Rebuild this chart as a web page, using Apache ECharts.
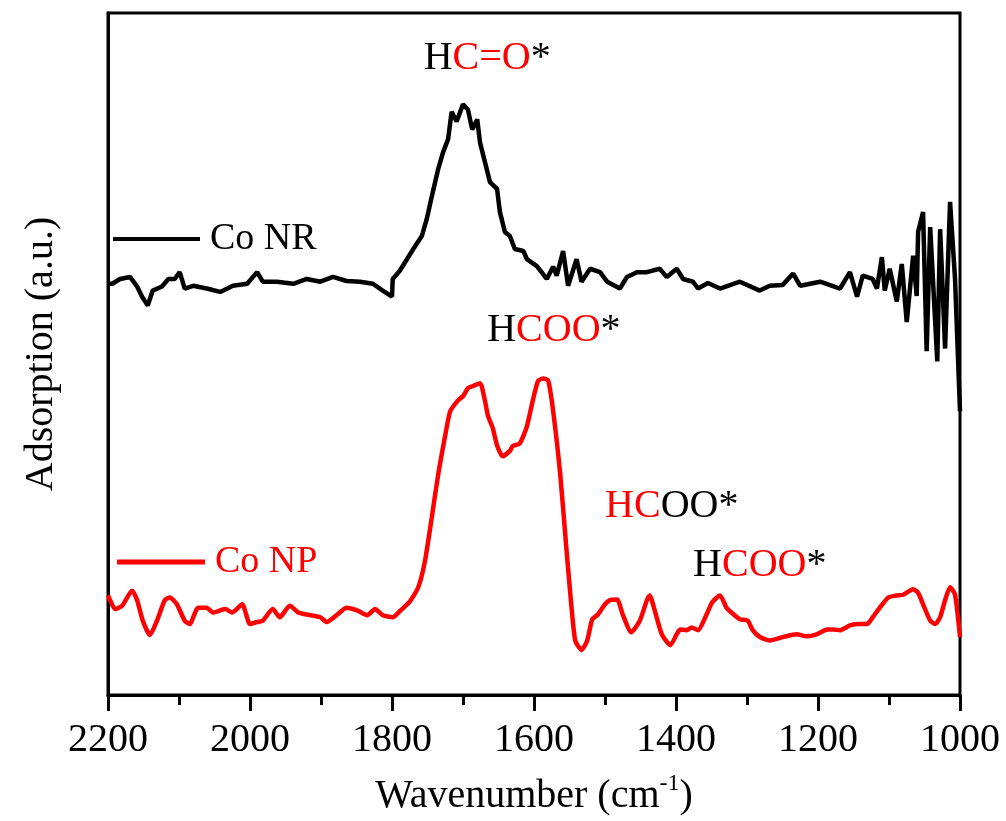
<!DOCTYPE html>
<html>
<head>
<meta charset="utf-8">
<script src="https://cdn.jsdelivr.net/npm/echarts@6/dist/echarts.min.js"></script>
<style>html,body{margin:0;padding:0;background:#fff;}#chart{width:1006px;height:821px;}</style>
</head>
<body>
<div id="chart"></div>
<script>
// Co NR (black) spectrum
const nrWave = [2200,2194,2183,2169,2159,2152,2144,2137,2124,2115,2106,2099,2092,2080,2061,2042,2024,2004,1990,1982,1962,1939,1920,1901,1883,1864,1845,1827,1813,1800,1799,1789,1770,1758,1751,1744,1735,1728,1721,1716,1709,1700,1693,1687,1680,1676,1669,1662,1652,1648,1641,1634,1627,1615,1610,1596,1582,1573,1568,1559,1552,1540,1533,1521,1507,1497,1479,1469,1455,1441,1423,1413,1399,1390,1376,1369,1355,1338,1310,1282,1268,1250,1235,1225,1197,1169,1155,1145,1137,1123,1117,1110,1106,1099,1089,1082,1075,1066,1061,1059,1052,1047,1042,1032,1028,1021,1014,1007,1000];
const nrAbs = [60.3,60.3,61.0,61.3,59.9,58.4,57.1,59.3,59.9,61.0,61.0,62.0,59.6,60.0,59.6,59.1,60.0,60.3,62.0,60.6,60.6,60.3,61.0,60.6,61.3,60.7,60.6,60.3,59.3,58.4,61.0,62.2,65.4,67.3,69.8,73.1,77.1,79.6,81.5,85.5,84.1,86.6,85.8,82.9,84.4,81.0,78.1,75.2,74.2,70.8,67.9,67.3,65.4,65.1,63.9,62.9,61.0,62.8,61.5,65.1,60.0,63.9,60.6,62.5,62.0,60.6,59.6,61.3,62.0,62.0,62.5,61.3,62.5,61.0,60.6,59.6,60.4,59.6,60.6,59.3,60.0,60.1,61.8,60.0,60.6,59.6,62.0,58.4,61.5,61.0,59.6,64.2,59.3,62.5,57.7,63.2,54.7,64.4,58.5,67.9,70.8,50.4,68.6,48.9,68.3,50.8,72.3,61.0,41.6];

// Co NP (red) spectrum
const npWave = [2200,2197,2190,2180,2166,2159,2151,2141,2131,2120,2113,2103,2092,2085,2073,2061,2052,2035,2025,2011,2000,1990,1982,1968,1958,1944,1932,1920,1901,1892,1877,1864,1849,1835,1824,1813,1799,1789,1775,1763,1754,1744,1735,1725,1718,1707,1700,1693,1686,1676,1669,1665,1658,1652,1644,1634,1630,1620,1610,1601,1594,1587,1580,1573,1563,1556,1549,1542,1533,1525,1518,1510,1500,1493,1483,1475,1463,1451,1441,1437,1430,1420,1408,1399,1394,1385,1378,1369,1357,1349,1338,1329,1322,1310,1299,1292,1282,1268,1249,1230,1216,1202,1187,1178,1169,1155,1141,1131,1123,1113,1101,1089,1080,1066,1059,1052,1042,1035,1028,1021,1014,1007,1000];
const npAbs = [14.6,13.9,12.6,13.1,15.3,13.9,10.9,8.8,10.9,13.9,14.3,13.3,10.9,10.4,12.8,12.8,12.1,12.6,12.1,13.3,10.4,10.7,10.9,12.6,11.4,13.1,12.1,11.8,11.4,10.7,11.8,12.8,12.4,11.7,12.6,11.7,11.4,12.3,13.7,15.8,19.4,26.0,32.3,38.1,41.6,43.2,43.8,45.0,45.3,45.7,43.1,41.0,39.1,36.6,35.0,35.8,36.5,36.9,39.4,43.5,46.1,46.4,46.1,41.6,32.3,23.5,15.0,8.0,6.6,8.0,11.1,11.8,13.3,13.9,14.0,11.8,9.2,10.9,13.9,14.6,12.4,8.9,7.3,8.9,9.6,9.5,9.9,9.5,11.8,13.6,14.6,12.8,12.1,11.1,10.9,9.5,8.5,8.0,8.5,8.9,8.6,8.9,9.6,9.6,9.5,10.2,10.4,10.4,11.4,12.8,14.3,14.6,14.7,15.5,15.0,13.3,10.9,10.4,11.4,13.9,15.8,14.7,8.5];

const seriesNames = ['Co NR', 'Co NP'];
const xTicks = [2200, 2000, 1800, 1600, 1400, 1200, 1000];
const xTitle = 'Wavenumber (cm';
const yTitle = 'Adsorption (a.u.)';
// annotations: [wavenumber, value, rich text]
const annotations = [
  [1666, 93.3, '{k|H}{r|C=O}{k|*}'],
  [1572, 53.4, '{k|H}{r|COO}{k|*}'],
  [1406, 27.7, '{r|HC}{k|OO*}'],
  [1282, 19.0, '{k|H}{r|COO}{k|*}']
];

const FONT = 'Liberation Serif, Times New Roman, serif';
const pairs = (xs, ys) => xs.map((x, i) => [x, ys[i]]);
const richStyles = {
  k: {color: '#000', fontSize: 40, fontFamily: FONT},
  r: {color: '#ff0000', fontSize: 40, fontFamily: FONT}
};

const chart = echarts.init(document.getElementById('chart'), null, {renderer: 'canvas'});
chart.setOption({
  animation: false,
  backgroundColor: '#fff',
  grid: {left: 108, right: 46, top: 13, bottom: 123, show: true, borderColor: '#000', borderWidth: 3, backgroundColor: 'transparent'},
  legend: [
    {data: [seriesNames[0]], left: 113, top: 220, padding: 0, itemWidth: 87, itemHeight: 4, icon: 'rect', selectedMode: false,
     textStyle: {color: '#000', fontSize: 38, fontFamily: FONT, padding: [0, 0, 0, 5]}},
    {data: [seriesNames[1]], left: 117, top: 543, padding: 0, itemWidth: 88, itemHeight: 5, icon: 'rect', selectedMode: false,
     textStyle: {color: '#ff0000', fontSize: 38, fontFamily: FONT, padding: [0, 0, 0, 5]}}
  ],
  xAxis: {
    type: 'value', inverse: true, min: 1000, max: 2200, interval: 200,
    axisLine: {show: true, lineStyle: {color: '#000', width: 3}},
    axisTick: {show: true, inside: false, length: 16, lineStyle: {color: '#000', width: 3}},
    minorTick: {show: true, splitNumber: 2, length: 10, lineStyle: {color: '#000', width: 3}},
    splitLine: {show: false},
    axisLabel: {color: '#000', fontSize: 40, fontFamily: FONT, margin: 25,
      formatter: v => xTicks.includes(v) ? String(v) : ''},
    name: '{a|' + xTitle + '}{s|-1}{a|)}',
    nameLocation: 'middle', nameGap: 77,
    nameTextStyle: {rich: {
      a: {color: '#000', fontSize: 40, fontFamily: FONT},
      s: {color: '#000', fontSize: 24, fontFamily: FONT, verticalAlign: 'top', padding: [0, 0, 24, 0]}
    }}
  },
  yAxis: {
    type: 'value', min: 0, max: 100,
    axisLine: {show: true, lineStyle: {color: '#000', width: 3}},
    axisTick: {show: false}, axisLabel: {show: false}, splitLine: {show: false},
    name: yTitle, nameLocation: 'middle', nameGap: 47,
    nameTextStyle: {color: '#000', fontSize: 40, fontFamily: FONT}
  },
  series: [
    {name: seriesNames[0], type: 'line', data: pairs(nrWave, nrAbs), showSymbol: false,
     lineStyle: {color: '#000', width: 4.5}, itemStyle: {color: '#000'},
     markPoint: {symbol: 'circle', symbolSize: 0, silent: true,
       label: {show: true, position: 'inside', rich: richStyles, formatter: p => p.data.txt},
       data: annotations.slice(0, 1).map(a => ({coord: [a[0], a[1]], txt: a[2]}))}},
    {name: seriesNames[1], type: 'line', data: pairs(npWave, npAbs), showSymbol: false, smooth: 0.2,
     lineStyle: {color: '#ff0000', width: 4.5}, itemStyle: {color: '#ff0000'},
     markPoint: {symbol: 'circle', symbolSize: 0, silent: true,
       label: {show: true, position: 'inside', rich: richStyles, formatter: p => p.data.txt},
       data: annotations.slice(1).map(a => ({coord: [a[0], a[1]], txt: a[2]}))}}
  ]
});
</script>
</body>
</html>
